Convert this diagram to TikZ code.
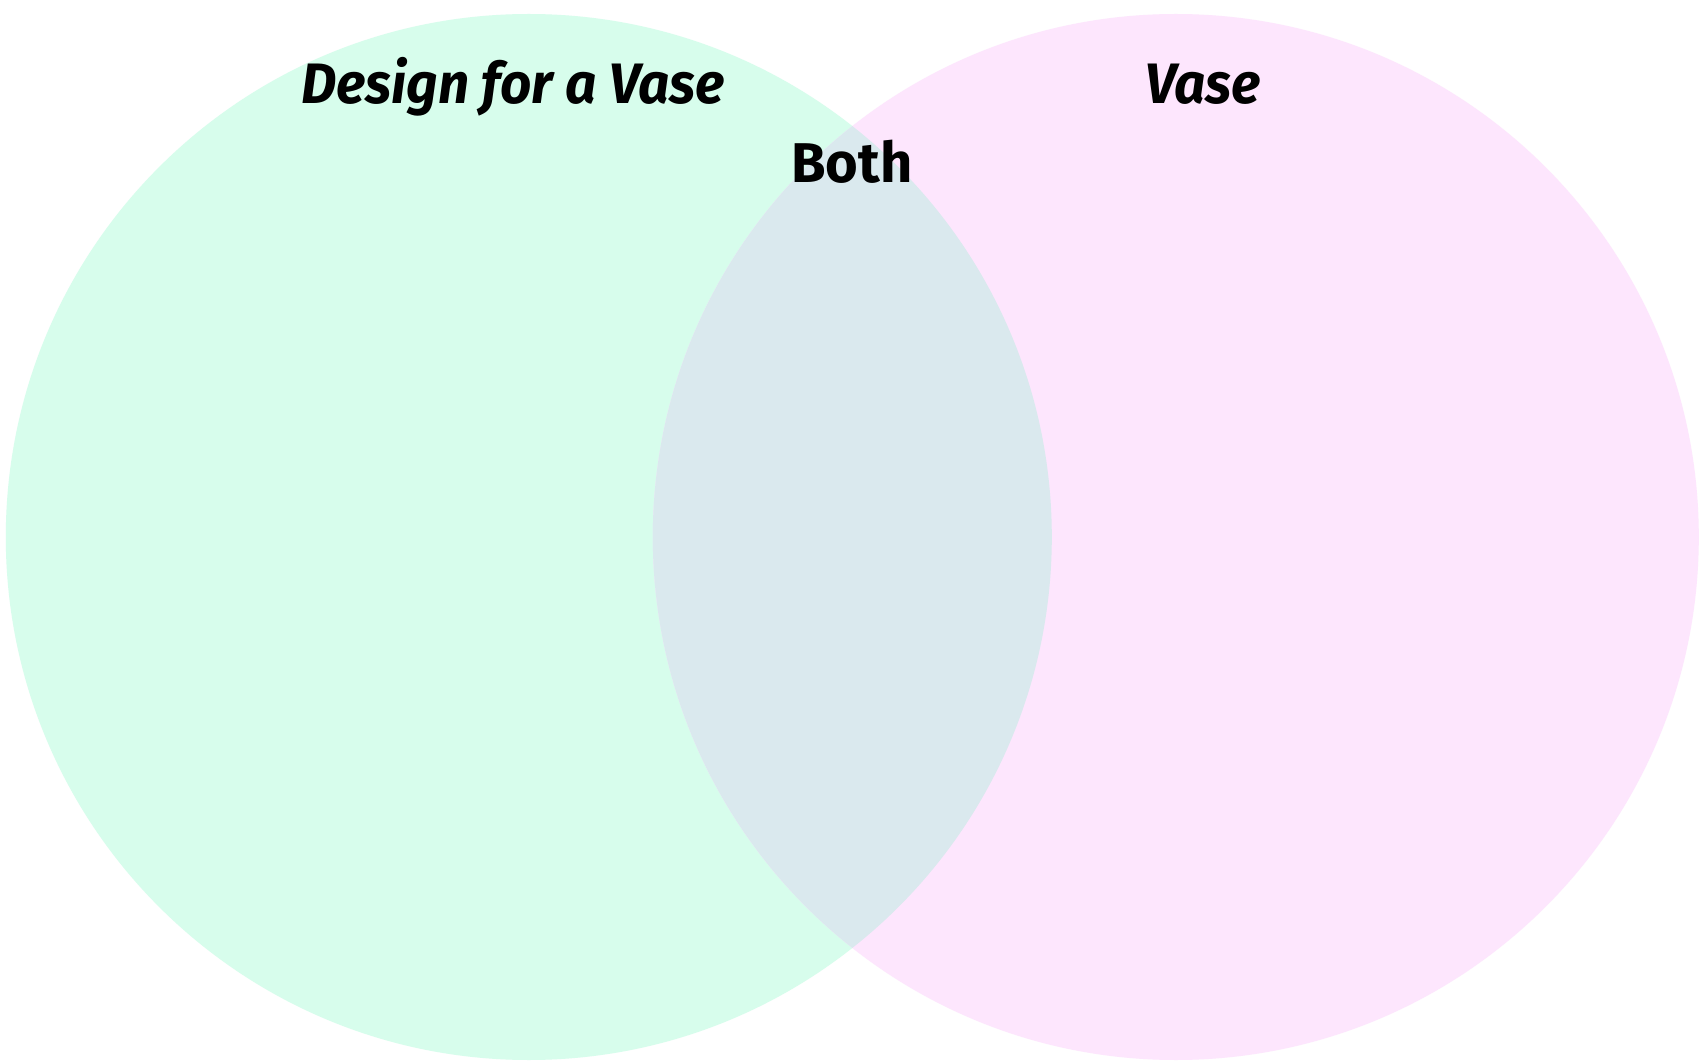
\documentclass[tikz,border=0pt]{standalone}
\usepackage{fontspec}
\setmainfont{Fira Sans}
\newfontfamily\vennital[FakeStretch=0.96]{Fira Sans}
\definecolor{vgreen}{RGB}{215,253,236}
\definecolor{vpink}{RGB}{253,230,253}
\definecolor{vboth}{RGB}{218,233,238}
\begin{document}
\begin{tikzpicture}[x=1pt,y=-1pt,
  lbl/.style={anchor=base,inner sep=0pt,font=\vennital\fontsize{57}{60}\selectfont\bfseries\itshape},
  bothlbl/.style={anchor=base,inner sep=0pt,font=\fontsize{56}{60}\selectfont\bfseries}]
\useasboundingbox (0,0) rectangle (1701,1064);
\fill[white] (0,0) rectangle (1701,1064);
\coordinate (cl) at (528.8,537);
\coordinate (cr) at (1175.8,537);
\fill[vgreen] (cl) circle[radius=523];
\fill[vpink] (cr) circle[radius=523];
\begin{scope}
\clip (cl) circle[radius=523];
\fill[vboth] (cr) circle[radius=523];
\end{scope}
\node[lbl] (a) at (513,104) {Design for a Vase};
\node[lbl] (b) at (1203,104) {Vase};
\node[bothlbl] (c) at (852,183) {Both};
\end{tikzpicture}
\end{document}
